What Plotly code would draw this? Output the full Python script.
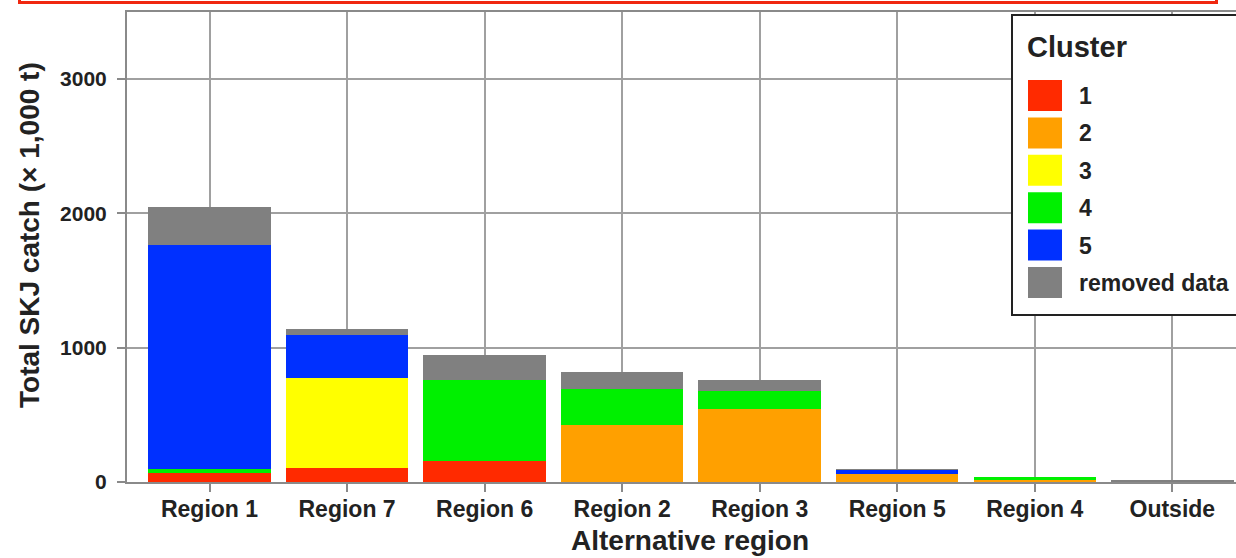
import plotly.graph_objects as go

categories = ["Region 1", "Region 7", "Region 6", "Region 2", "Region 3", "Region 5", "Region 4", "Outside"]
cluster1 = [67, 104, 156, 0, 0, 0, 0, 0]
cluster2 = [0, 0, 0, 427, 547, 62, 12, 0]
cluster3 = [0, 672, 0, 0, 0, 0, 0, 0]
cluster4 = [33, 0, 605, 267, 129, 0, 28, 0]
cluster5 = [1665, 315, 0, 0, 0, 30, 0, 4]
removed = [280, 49, 186, 124, 87, 4, 0, 5]

series_names = ["1", "2", "3", "4", "5", "removed data"]
series_values = [cluster1, cluster2, cluster3, cluster4, cluster5, removed]
series_colors = ["#FF2A00", "#FFA000", "#FFFF00", "#00F000", "#0030FF", "#808080"]

y_ticks = [0, 1000, 2000, 3000]

W, H = 1236, 558
ML, MT, MB, MR = 127, 12, 76, 0
PW = W - ML - MR
PH = H - MT - MB

def px(x):
    return (x - ML) / PW

def py(y):
    return (H - MB - y) / PH

fig = go.Figure()
for name, vals, col in zip(series_names, series_values, series_colors):
    fig.add_trace(go.Bar(x=categories, y=vals, name=name, marker=dict(color=col, line=dict(width=0)),
                         showlegend=False))

font_family = "Liberation Sans, Arial, sans-serif"

fig.update_layout(
    width=W, height=H,
    margin=dict(l=ML, r=MR, t=MT, b=MB, pad=0),
    barmode="stack",
    bargap=0.11,
    plot_bgcolor="white",
    paper_bgcolor="white",
    font=dict(family=font_family, color="#222222"),
    xaxis=dict(
        range=[-0.6, 7.463],
        showgrid=True, gridcolor="#A0A0A0", gridwidth=1.5,
        showline=True, linecolor="#8A8A8A", linewidth=2, mirror=True,
        ticks="outside", ticklen=8, tickwidth=1.5, tickcolor="#8A8A8A",
        ticklabelstandoff=-3,
        tickfont=dict(size=23, family=font_family, weight="bold", color="#222222"),
    ),
    yaxis=dict(
        range=[0, 3500],
        tickvals=y_ticks,
        ticktext=[str(v) for v in y_ticks],
        showgrid=True, gridcolor="#A0A0A0", gridwidth=1.5,
        zeroline=False,
        showline=True, linecolor="#8A8A8A", linewidth=2, mirror=False,
        ticks="outside", ticklen=8, tickwidth=1.5, tickcolor="#8A8A8A",
        ticklabelstandoff=6,
        tickfont=dict(size=21, family=font_family, weight="bold", color="#222222"),
    ),
)

shapes = []
annotations = []

# axis titles
annotations.append(dict(xref="paper", yref="paper", x=px(30), y=py(235), xanchor="center", yanchor="middle",
                        text="<b>Total SKJ catch (× 1,000 t)</b>", textangle=-90, showarrow=False,
                        font=dict(size=28, family=font_family, color="#222222")))
annotations.append(dict(xref="paper", yref="paper", x=px(690), y=py(557), xanchor="center", yanchor="bottom",
                        borderpad=0, text="<b>Alternative region</b>", showarrow=False,
                        font=dict(size=28, family=font_family, color="#222222")))

# red frame at the top (partially visible)
shapes.append(dict(type="rect", xref="paper", yref="paper",
                   x0=px(19.5), x1=px(1216.5), y0=py(2.5), y1=py(-60),
                   line=dict(color="#F02810", width=3), fillcolor="rgba(0,0,0,0)", layer="above"))

# legend box
shapes.append(dict(type="rect", xref="paper", yref="paper",
                   x0=px(1012), x1=px(1300), y0=py(315), y1=py(15),
                   line=dict(color="#222222", width=2), fillcolor="white", layer="above"))
annotations.append(dict(xref="paper", yref="paper", x=px(1025), y=py(47), xanchor="left", yanchor="middle",
                        text="<b>Cluster</b>", showarrow=False,
                        font=dict(size=29, family=font_family, color="#222222")))
for i, (name, col) in enumerate(zip(series_names, series_colors)):
    top = 80 + i * 37.4
    shapes.append(dict(type="rect", xref="paper", yref="paper",
                       x0=px(1028), x1=px(1062), y0=py(top + 31), y1=py(top),
                       line=dict(width=0), fillcolor=col, layer="above"))
    annotations.append(dict(xref="paper", yref="paper", x=px(1077), y=py(top + 16), xanchor="left",
                            yanchor="middle", text="<b>" + name + "</b>", showarrow=False,
                            font=dict(size=23, family=font_family, color="#222222")))

fig.update_layout(shapes=shapes, annotations=annotations)

fig.write_html("out.html")
